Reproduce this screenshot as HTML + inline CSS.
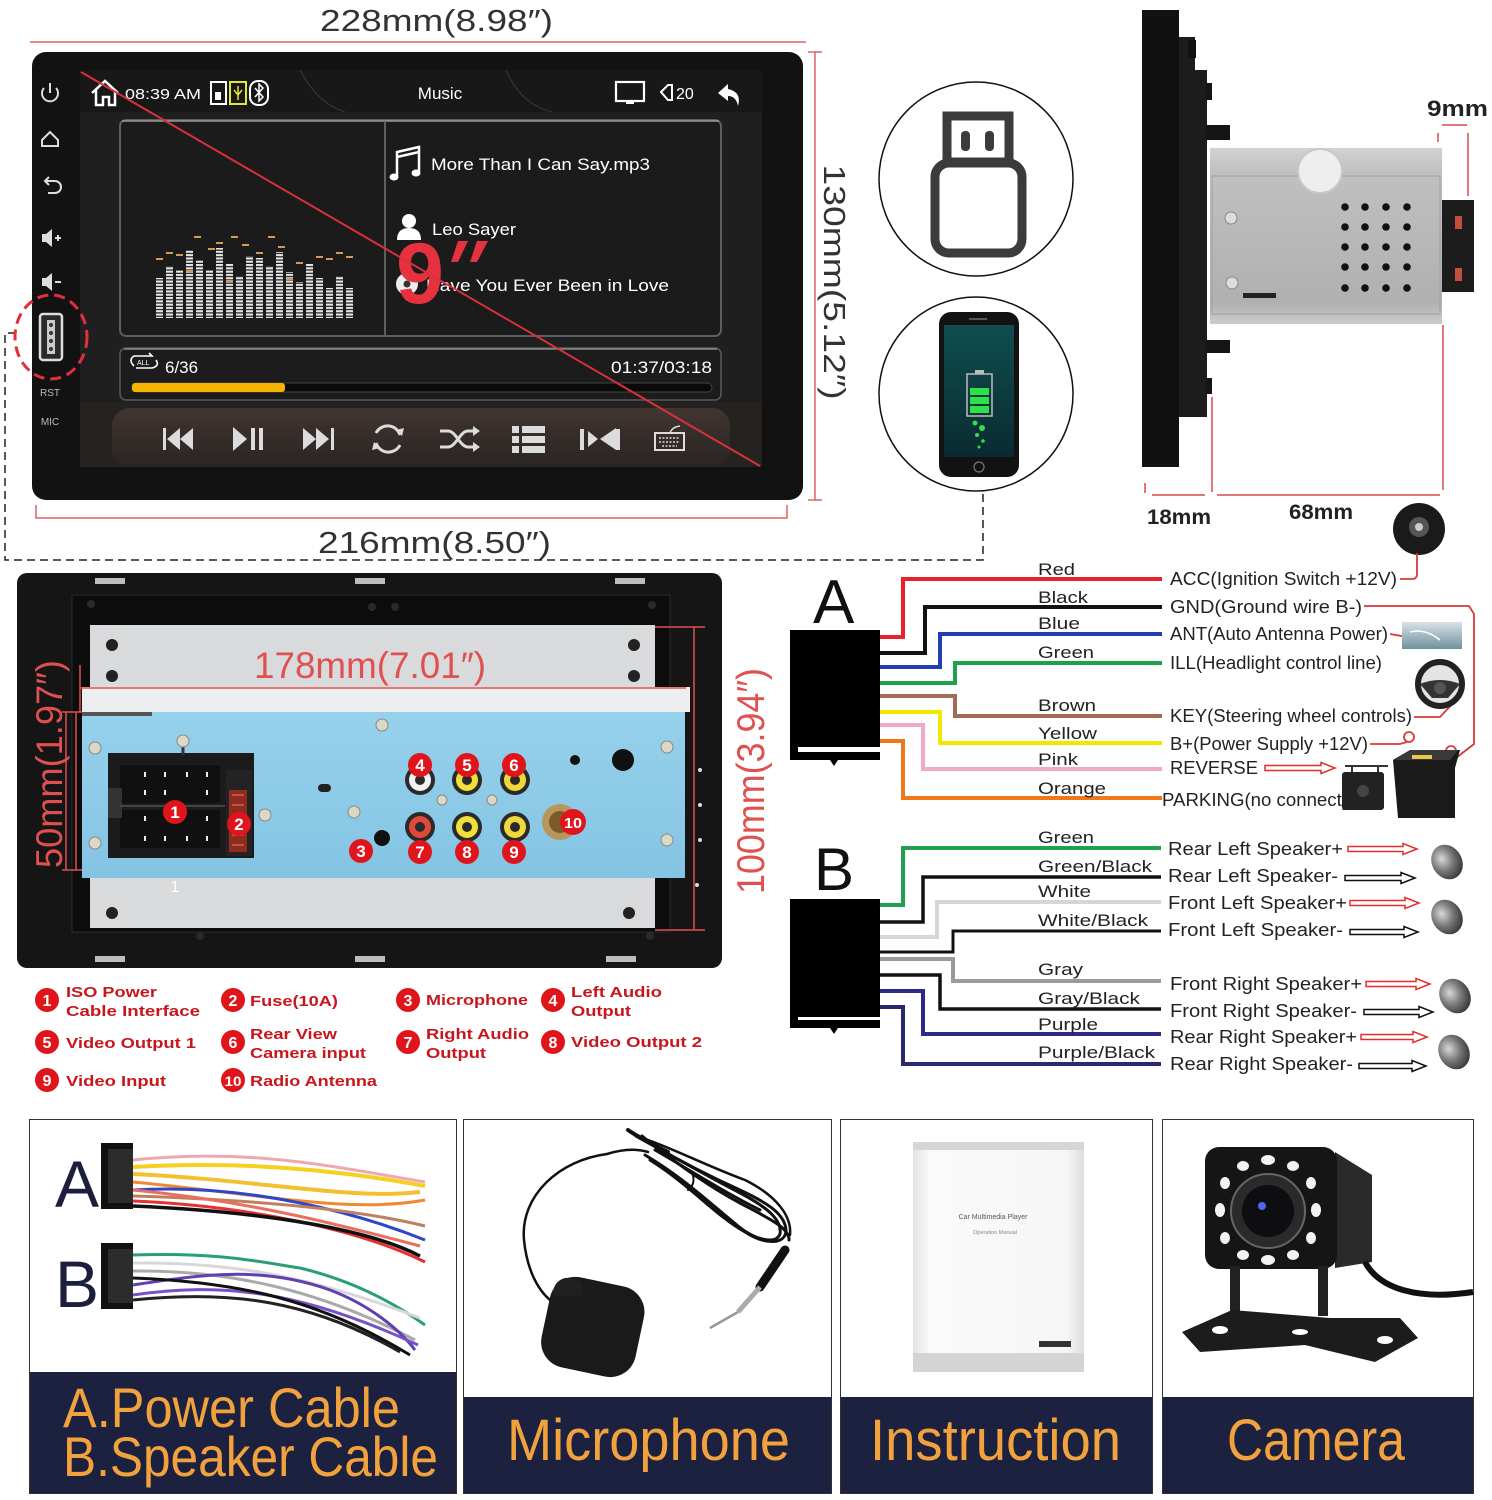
<!DOCTYPE html>
<html><head><meta charset="utf-8">
<style>
html,body{margin:0;padding:0;background:#fff;}
svg{display:block;}
text{font-family:"Liberation Sans",Arial,sans-serif;}
</style></head><body>
<svg width="1492" height="1500" viewBox="0 0 1492 1500" xmlns="http://www.w3.org/2000/svg">
<defs>
<linearGradient id="metal" x1="0" y1="0" x2="0" y2="1"><stop offset="0" stop-color="#d2d2d2"/><stop offset="0.14" stop-color="#c0c0c0"/><stop offset="0.88" stop-color="#b0b0b0"/><stop offset="1" stop-color="#cccccc"/></linearGradient>
<linearGradient id="phoneScr" x1="0" y1="0" x2="0" y2="1"><stop offset="0" stop-color="#0f4e50"/><stop offset="1" stop-color="#0a2a30"/></linearGradient>
<linearGradient id="blueb" x1="0" y1="0" x2="0" y2="1"><stop offset="0" stop-color="#96d1ec"/><stop offset="1" stop-color="#84c4e3"/></linearGradient>
<radialGradient id="spk" cx="0.4" cy="0.35" r="0.7"><stop offset="0" stop-color="#d8d8d8"/><stop offset="0.5" stop-color="#7a7a7a"/><stop offset="1" stop-color="#333"/></radialGradient>
<linearGradient id="ctl" x1="0" y1="0" x2="0" y2="1"><stop offset="0" stop-color="#403531"/><stop offset="1" stop-color="#2a2422"/></linearGradient>
<linearGradient id="antg" x1="0" y1="0" x2="0" y2="1"><stop offset="0" stop-color="#d9e2e8"/><stop offset="1" stop-color="#6f909c"/></linearGradient>
<linearGradient id="book" x1="0" y1="0" x2="1" y2="0"><stop offset="0" stop-color="#e4e4e4"/><stop offset="0.1" stop-color="#fafafa"/><stop offset="0.9" stop-color="#f6f6f6"/><stop offset="1" stop-color="#dcdcdc"/></linearGradient>
<pattern id="eq" width="1" height="3.3" patternUnits="userSpaceOnUse"><rect width="1" height="2.1" fill="#e6e6e6"/></pattern>
</defs>

<!-- ===== TOP DIMENSIONS ===== -->
<text x="320" y="31" font-size="31" fill="#333" textLength="233" lengthAdjust="spacingAndGlyphs">228mm(8.98″)</text>
<line x1="30" y1="42" x2="806" y2="42" stroke="#e06060" stroke-width="1.5"/>
<line x1="815" y1="52" x2="815" y2="500" stroke="#e06060" stroke-width="1.5"/>
<line x1="808" y1="52" x2="822" y2="52" stroke="#e06060" stroke-width="1.5"/>
<line x1="808" y1="500" x2="822" y2="500" stroke="#e06060" stroke-width="1.5"/>
<text transform="translate(824,282) rotate(90)" x="0" y="0" font-size="31" fill="#333" text-anchor="middle" textLength="235" lengthAdjust="spacingAndGlyphs">130mm(5.12″)</text>
<path d="M36 505 V518 H787 V505" fill="none" stroke="#e06060" stroke-width="1.5"/>
<text x="318" y="553" font-size="31" fill="#333" textLength="233" lengthAdjust="spacingAndGlyphs">216mm(8.50″)</text>
<path d="M16 333 H5 V560 H983 V492" fill="none" stroke="#222" stroke-width="1.5" stroke-dasharray="8 5"/>

<!-- ===== SCREEN ===== -->
<rect x="32" y="52" width="771" height="448" rx="14" fill="#121212"/>
<rect x="80" y="70" width="682" height="397" fill="#1f1f20"/>
<rect x="80" y="70" width="682" height="42" fill="#181819"/>
<path d="M300 70 Q318 104 345 112" stroke="#3a3a3a" fill="none"/>
<path d="M506 70 Q520 104 552 112" stroke="#3a3a3a" fill="none"/>
<!-- status bar -->
<path d="M92 93 L105 81 L118 93 M96 90 V105 H103 V97 H109 V105 H115 V90" stroke="#fff" stroke-width="2.5" fill="none"/>
<text x="125" y="99" font-size="15" fill="#fff" textLength="76" lengthAdjust="spacingAndGlyphs">08:39 AM</text>
<rect x="211" y="82" width="15" height="22" fill="none" stroke="#fff" stroke-width="2"/>
<rect x="215" y="92" width="6" height="8" fill="#fff"/>
<rect x="230" y="82" width="16" height="22" fill="none" stroke="#e6e23a" stroke-width="2"/>
<path d="M238 86 V100 M234 90 L238 95 L242 90" stroke="#e6e23a" stroke-width="1.5" fill="none"/>
<rect x="250" y="81" width="18" height="24" rx="8" fill="none" stroke="#fff" stroke-width="2"/>
<path d="M255 88 L263 97 L259 101 V84 L263 88 L255 97" stroke="#fff" stroke-width="1.5" fill="none"/>
<text x="440" y="99" font-size="17" fill="#fff" text-anchor="middle">Music</text>
<rect x="616" y="82" width="28" height="19" fill="none" stroke="#fff" stroke-width="2.2"/>
<path d="M626 103 H634 M630 101 V104" stroke="#fff" stroke-width="2"/>
<path d="M628 86 A6 6 0 1 0 636 95 A5 5 0 0 1 628 86 Z" fill="#fff"/>
<path d="M661 92 L668 85 H672 V100 H668 Z" fill="none" stroke="#fff" stroke-width="2"/>
<text x="676" y="99" font-size="16" fill="#fff">20</text>
<path d="M738 106 Q742 92 728 89 V84 L718 93 L728 101 V96 Q736 96 738 106 Z" fill="#fff"/>
<!-- left icons -->
<path d="M44 88 A8 8 0 1 0 56 88" stroke="#ddd" stroke-width="2" fill="none"/>
<line x1="50" y1="83" x2="50" y2="93" stroke="#ddd" stroke-width="2"/>
<path d="M42 140 L50 132 L58 140 V146 H42 Z" stroke="#ddd" stroke-width="2" fill="none"/>
<path d="M46 181 H55 A6 6 0 0 1 55 193 H48 M49 177 L45 181 L49 185" stroke="#ddd" stroke-width="2" fill="none"/>
<path d="M42 234 H46 L52 229 V247 L46 242 H42 Z" fill="#ddd"/>
<path d="M55 238 H61 M58 235 V241" stroke="#ddd" stroke-width="2"/>
<path d="M42 278 H46 L52 273 V291 L46 286 H42 Z" fill="#ddd"/>
<path d="M55 282 H61" stroke="#ddd" stroke-width="2"/>
<rect x="40" y="314" width="22" height="46" rx="3" fill="#2a2a2a" stroke="#ddd" stroke-width="2.5"/>
<rect x="47" y="320" width="8" height="34" fill="#ccc"/>
<circle cx="51" cy="325" r="2" fill="#333"/><circle cx="51" cy="333" r="2" fill="#333"/><circle cx="51" cy="341" r="2" fill="#333"/><circle cx="51" cy="349" r="2" fill="#333"/>
<ellipse cx="51" cy="337" rx="36" ry="42" fill="none" stroke="#e03040" stroke-width="3" stroke-dasharray="11 6"/>
<text x="50" y="396" font-size="10" fill="#bbb" text-anchor="middle">RST</text>
<text x="50" y="425" font-size="10" fill="#bbb" text-anchor="middle">MIC</text>
<!-- main panel -->
<rect x="120" y="120" width="601" height="216" rx="6" fill="#1b1b1c" stroke="#5e5e5e" stroke-width="2"/>
<line x1="122" y1="121" x2="719" y2="121" stroke="#9a9a9a" stroke-width="1.5"/>
<line x1="385" y1="121" x2="385" y2="335" stroke="#5e5e5e" stroke-width="2"/>
<!-- equalizer -->
<g fill="url(#eq)">
<rect x="156" y="278" width="7" height="40"/><rect x="166" y="266" width="7" height="52"/><rect x="176" y="270" width="7" height="48"/><rect x="186" y="250" width="7" height="68"/><rect x="196" y="260" width="7" height="58"/><rect x="206" y="270" width="7" height="48"/><rect x="216" y="248" width="7" height="70"/><rect x="226" y="264" width="7" height="54"/><rect x="236" y="276" width="7" height="42"/><rect x="246" y="256" width="7" height="62"/><rect x="256" y="258" width="7" height="60"/><rect x="266" y="266" width="7" height="52"/><rect x="276" y="252" width="7" height="66"/><rect x="286" y="272" width="7" height="46"/><rect x="296" y="282" width="7" height="36"/><rect x="306" y="264" width="7" height="54"/><rect x="316" y="278" width="7" height="40"/><rect x="326" y="288" width="7" height="30"/><rect x="336" y="276" width="7" height="42"/><rect x="346" y="288" width="7" height="30"/>
</g>
<g fill="#d89a50">
<rect x="156" y="258" width="7" height="2"/><rect x="166" y="252" width="7" height="2"/><rect x="176" y="254" width="7" height="2"/><rect x="194" y="236" width="7" height="2"/><rect x="208" y="248" width="7" height="2"/><rect x="216" y="242" width="7" height="2"/><rect x="231" y="236" width="7" height="2"/><rect x="242" y="244" width="7" height="2"/><rect x="256" y="252" width="7" height="2"/><rect x="268" y="236" width="7" height="2"/><rect x="278" y="246" width="7" height="2"/><rect x="296" y="262" width="7" height="2"/><rect x="316" y="256" width="7" height="2"/><rect x="326" y="258" width="7" height="2"/><rect x="336" y="252" width="7" height="2"/><rect x="346" y="256" width="7" height="2"/><rect x="186" y="270" width="7" height="2"/><rect x="226" y="280" width="7" height="2"/><rect x="286" y="278" width="7" height="2"/>
</g>
<!-- song info -->
<path d="M397 176 V152 L419 147 V172 M397 157 L419 152" stroke="#fff" stroke-width="2.5" fill="none"/>
<ellipse cx="394" cy="177" rx="4.5" ry="3.5" fill="#fff"/><ellipse cx="416" cy="173" rx="4.5" ry="3.5" fill="#fff"/>
<text x="431" y="170" font-size="17" fill="#fff" textLength="219" lengthAdjust="spacingAndGlyphs">More Than I Can Say.mp3</text>
<circle cx="409" cy="221" r="7" fill="#fff"/>
<path d="M397 240 Q397 228 409 228 Q421 228 421 240 Z" fill="#fff"/>
<text x="432" y="235" font-size="17" fill="#fff" textLength="84" lengthAdjust="spacingAndGlyphs">Leo Sayer</text>
<circle cx="407" cy="284" r="11" fill="#eee"/><circle cx="407" cy="284" r="3.5" fill="#333"/>
<text x="426" y="291" font-size="17" fill="#fff" textLength="243" lengthAdjust="spacingAndGlyphs">Have You Ever Been in Love</text>
<text x="396" y="303" font-size="86" font-weight="bold" fill="#e5323e" textLength="48" lengthAdjust="spacingAndGlyphs">9</text>
<path d="M458 241 L468 241 L458 262 L451 262 Z M477 241 L488 241 L477 262 L470 262 Z" fill="#e5323e"/>
<!-- progress -->
<rect x="120" y="348" width="601" height="52" rx="6" fill="#1c1c1d" stroke="#5a5a5a" stroke-width="1.5"/>
<line x1="124" y1="349" x2="717" y2="349" stroke="#8a8a8a" stroke-width="1.5"/>
<path d="M134 366 Q128 360 134 356 H152 L149 353 M156 360 Q160 366 152 368 H136" stroke="#fff" stroke-width="1.6" fill="none"/>
<text x="137" y="365" font-size="7" fill="#fff">ALL</text>
<text x="165" y="373" font-size="17" fill="#fff">6/36</text>
<text x="712" y="373" font-size="17" fill="#fff" text-anchor="end" textLength="101" lengthAdjust="spacingAndGlyphs">01:37/03:18</text>
<rect x="132" y="383" width="580" height="9" rx="4.5" fill="#0a0a0a" stroke="#444"/>
<rect x="132" y="383" width="153" height="9" rx="3" fill="#f4b400"/>
<!-- controls -->
<rect x="80" y="402" width="682" height="65" fill="#262220"/>
<rect x="112" y="408" width="618" height="59" rx="18" fill="url(#ctl)"/>
<g fill="#dcdcdc">
<rect x="163" y="428" width="3" height="22"/><path d="M180 428 L167 439 L180 450Z M193 428 L180 439 L193 450Z"/>
<path d="M233 427 L247 439 L233 451Z"/><rect x="251" y="428" width="4" height="22"/><rect x="259" y="428" width="4" height="22"/>
<path d="M303 428 L316 439 L303 450Z M316 428 L329 439 L316 450Z"/><rect x="331" y="428" width="3" height="22"/>
<path d="M588 431 L598 439 L588 447Z"/><rect x="580" y="429" width="4" height="21"/><path d="M600 439 L616 428 V450 Z"/><rect x="616" y="429" width="4" height="21"/>
<rect x="512" y="426" width="7" height="7"/><rect x="522" y="426" width="23" height="7"/><rect x="512" y="436" width="7" height="7"/><rect x="522" y="436" width="23" height="7"/><rect x="512" y="446" width="7" height="7"/><rect x="522" y="446" width="23" height="7"/>
</g>
<path d="M376 433 A13 13 0 0 1 400 435 M400 445 A13 13 0 0 1 376 443" stroke="#dcdcdc" stroke-width="3" fill="none"/>
<path d="M396 430 L402 436 L404 428 Z M380 448 L374 442 L372 450 Z" fill="#dcdcdc"/>
<path d="M440 431 H448 C456 431 460 447 468 447 H476 M440 447 H448 C456 447 460 431 468 431 H476" stroke="#dcdcdc" stroke-width="3" fill="none"/>
<path d="M473 426 L480 431 L473 436 Z M473 442 L480 447 L473 452 Z" fill="#dcdcdc"/>
<rect x="655" y="433" width="29" height="17" fill="none" stroke="#dcdcdc" stroke-width="2"/>
<path d="M659 438 H680 M659 442 H680 M662 446 H677" stroke="#dcdcdc" stroke-width="1.5" stroke-dasharray="2 1.5"/>
<path d="M670 433 Q672 427 680 426" stroke="#dcdcdc" stroke-width="1.5" fill="none"/>
<line x1="81" y1="72" x2="760" y2="466" stroke="#d8303a" stroke-width="2"/>

<!-- ===== CIRCLES ===== -->
<circle cx="976" cy="179" r="97" fill="#fff" stroke="#111" stroke-width="1.5"/>
<rect x="947" y="116" width="62" height="46" fill="#fff" stroke="#3b3b3b" stroke-width="9"/>
<rect x="935" y="163" width="87" height="90" rx="14" fill="#fff" stroke="#3b3b3b" stroke-width="9"/>
<rect x="961" y="131" width="9" height="20" rx="4" fill="#3b3b3b"/>
<rect x="985" y="131" width="9" height="20" rx="4" fill="#3b3b3b"/>
<circle cx="976" cy="394" r="97" fill="#fff" stroke="#111" stroke-width="1.5"/>
<rect x="939" y="312" width="80" height="165" rx="12" fill="#121212"/>
<rect x="944" y="325" width="70" height="132" fill="url(#phoneScr)"/>
<rect x="967" y="374" width="25" height="42" fill="none" stroke="#bbb" stroke-width="1.5"/>
<rect x="975" y="370" width="9" height="4" fill="#bbb"/>
<rect x="970" y="388" width="19" height="7" fill="#2ee04a"/><rect x="970" y="397" width="19" height="7" fill="#2ee04a"/><rect x="970" y="406" width="19" height="7" fill="#2ee04a"/>
<circle cx="975" cy="423" r="2.5" fill="#2ee04a"/><circle cx="982" cy="428" r="3" fill="#2ee04a"/><circle cx="977" cy="435" r="2" fill="#2ee04a"/><circle cx="983" cy="441" r="1.8" fill="#2ee04a"/><circle cx="979" cy="447" r="1.5" fill="#2ee04a"/>
<circle cx="979" cy="467" r="5" fill="none" stroke="#777" stroke-width="1.2"/>
<rect x="969" y="318" width="18" height="2" fill="#555"/>

<!-- ===== SIDE VIEW ===== -->
<rect x="1142" y="10" width="37" height="457" fill="#111"/>
<path d="M1179 37 H1195 V70 H1207 V417 H1179 Z" fill="#1c1c1c"/>
<rect x="1188" y="40" width="8" height="18" fill="#111"/>
<rect x="1206" y="125" width="24" height="15" fill="#151515"/>
<rect x="1206" y="340" width="24" height="13" fill="#151515"/>
<rect x="1206" y="378" width="6" height="16" fill="#151515"/>
<rect x="1206" y="83" width="6" height="17" fill="#151515"/>
<rect x="1210" y="148" width="232" height="176" fill="url(#metal)"/>
<rect x="1212" y="176" width="228" height="138" fill="none" stroke="#a0a0a0"/>
<circle cx="1320" cy="171" r="22" fill="#eee" stroke="#c8c8c8" stroke-width="2"/>
<circle cx="1231" cy="218" r="6" fill="#ddd" stroke="#888"/><circle cx="1232" cy="283" r="6" fill="#ddd" stroke="#888"/>
<rect x="1243" y="293" width="33" height="5" fill="#222"/>
<g fill="#111">
<circle cx="1345" cy="207" r="3.8"/><circle cx="1365" cy="207" r="3.8"/><circle cx="1386" cy="207" r="3.8"/><circle cx="1407" cy="207" r="3.8"/>
<circle cx="1345" cy="227" r="3.8"/><circle cx="1365" cy="227" r="3.8"/><circle cx="1386" cy="227" r="3.8"/><circle cx="1407" cy="227" r="3.8"/>
<circle cx="1345" cy="247" r="3.8"/><circle cx="1365" cy="247" r="3.8"/><circle cx="1386" cy="247" r="3.8"/><circle cx="1407" cy="247" r="3.8"/>
<circle cx="1345" cy="267" r="3.8"/><circle cx="1365" cy="267" r="3.8"/><circle cx="1386" cy="267" r="3.8"/><circle cx="1407" cy="267" r="3.8"/>
<circle cx="1345" cy="288" r="3.8"/><circle cx="1365" cy="288" r="3.8"/><circle cx="1386" cy="288" r="3.8"/><circle cx="1407" cy="288" r="3.8"/>
</g>
<rect x="1442" y="200" width="32" height="92" fill="#1c1c1c"/>
<rect x="1455" y="216" width="7" height="13" fill="#c0503c"/><rect x="1455" y="268" width="7" height="13" fill="#c0503c"/>
<g stroke="#d84a4a" stroke-width="1.5" fill="none">
<path d="M1442 125 H1467"/><path d="M1468 133 V196"/><path d="M1438 133 V142"/>
<path d="M1145 483 V493"/><path d="M1152 495 H1205"/><path d="M1212 397 V492"/><path d="M1217 495 H1440"/><path d="M1443 325 V490"/>
</g>
<text x="1427" y="116" font-size="22" font-weight="bold" fill="#222" textLength="61" lengthAdjust="spacingAndGlyphs">9mm</text>
<text x="1147" y="524" font-size="21" font-weight="bold" fill="#222" textLength="64" lengthAdjust="spacingAndGlyphs">18mm</text>
<text x="1289" y="519" font-size="21" font-weight="bold" fill="#222" textLength="64" lengthAdjust="spacingAndGlyphs">68mm</text>
<circle cx="1419" cy="529" r="26" fill="#1a1a1a"/><circle cx="1419" cy="527" r="10" fill="#555"/><circle cx="1419" cy="527" r="4" fill="#ccc"/>

<!-- ===== BACK PANEL ===== -->
<rect x="17" y="573" width="705" height="395" rx="10" fill="#151515"/>
<g fill="#bdbdbd"><rect x="95" y="578" width="30" height="6"/><rect x="355" y="578" width="30" height="6"/><rect x="615" y="578" width="30" height="6"/><rect x="95" y="956" width="30" height="6"/><rect x="355" y="956" width="30" height="6"/><rect x="606" y="956" width="30" height="6"/></g>
<rect x="72" y="595" width="598" height="337" fill="#0c0c0c" stroke="#2a2a2a"/>
<g fill="#2a2a2a"><circle cx="91" cy="604" r="4"/><circle cx="372" cy="607" r="4"/><circle cx="395" cy="607" r="4"/><circle cx="652" cy="605" r="4"/><circle cx="200" cy="936" r="4"/><circle cx="650" cy="936" r="4"/></g>
<rect x="90" y="625" width="565" height="303" fill="#d9dadc"/>
<g fill="#222"><circle cx="112" cy="645" r="6"/><circle cx="112" cy="676" r="6"/><circle cx="634" cy="645" r="6"/><circle cx="634" cy="676" r="6"/><circle cx="112" cy="913" r="6"/><circle cx="629" cy="913" r="6"/></g>
<rect x="82" y="687" width="608" height="25" fill="#eceef0"/>
<rect x="82" y="712" width="603" height="166" fill="url(#blueb)"/>
<rect x="82" y="712" width="70" height="4" fill="#555"/>
<g fill="#ddd"><circle cx="700" cy="770" r="2"/><circle cx="700" cy="805" r="2"/><circle cx="700" cy="840" r="2"/><circle cx="697" cy="885" r="2"/></g>
<text x="370" y="678" font-size="37" fill="#e05050" text-anchor="middle" textLength="232" lengthAdjust="spacingAndGlyphs">178mm(7.01″)</text>
<g stroke="#e05050" stroke-width="1.5" fill="none">
<path d="M80 688 H686"/><path d="M80 665 V712"/>
<path d="M66 712 V870 M62 712 H82 M62 870 H82"/><path d="M76 712 V870"/>
<path d="M694 627 V930 M655 627 H705 M655 930 H705"/>
</g>
<text transform="translate(62,764) rotate(-90)" x="0" y="0" font-size="37" fill="#e05050" text-anchor="middle" textLength="208" lengthAdjust="spacingAndGlyphs">50mm(1.97″)</text>
<text transform="translate(764,781) rotate(-90)" x="0" y="0" font-size="39" fill="#e05050" text-anchor="middle" textLength="226" lengthAdjust="spacingAndGlyphs">100mm(3.94″)</text>
<!-- ISO connector -->
<rect x="108" y="753" width="146" height="105" fill="#1b1b1b"/>
<rect x="120" y="765" width="100" height="38" fill="#101010"/><rect x="120" y="810" width="100" height="38" fill="#101010"/>
<rect x="108" y="788" width="14" height="30" fill="#333"/>
<line x1="120" y1="806" x2="225" y2="806" stroke="#444" stroke-width="2"/>
<g fill="#eee"><rect x="144" y="772" width="2" height="5"/><rect x="164" y="772" width="2" height="5"/><rect x="186" y="772" width="2" height="5"/><rect x="206" y="772" width="2" height="5"/><rect x="144" y="790" width="2" height="5"/><rect x="164" y="790" width="2" height="5"/><rect x="206" y="790" width="2" height="5"/><rect x="144" y="816" width="2" height="5"/><rect x="206" y="816" width="2" height="5"/><rect x="144" y="836" width="2" height="5"/><rect x="164" y="836" width="2" height="5"/><rect x="186" y="836" width="2" height="5"/><rect x="206" y="836" width="2" height="5"/></g>
<rect x="226" y="770" width="26" height="86" fill="#232323"/>
<rect x="229" y="790" width="18" height="62" fill="#8f2c22"/>
<path d="M232 795 H244 M232 805 H244 M232 815 H244 M232 835 H244 M232 845 H244" stroke="#c05040" stroke-width="2"/>
<path d="M183 742 V755" stroke="#333" stroke-width="3"/>
<g fill="#dcd8c4" stroke="#888"><circle cx="183" cy="741" r="6"/><circle cx="95" cy="748" r="6"/><circle cx="95" cy="843" r="6"/><circle cx="265" cy="815" r="6"/><circle cx="354" cy="812" r="6"/><circle cx="382" cy="725" r="6"/><circle cx="442" cy="800" r="5"/><circle cx="492" cy="800" r="5"/><circle cx="667" cy="747" r="6"/><circle cx="667" cy="840" r="6"/></g>
<rect x="318" y="784" width="13" height="8" rx="4" fill="#222"/>
<!-- jacks -->
<g>
<circle cx="420" cy="780" r="15" fill="#2a2a2a"/><circle cx="420" cy="780" r="11" fill="#f2f2f2"/><circle cx="420" cy="780" r="5" fill="#2a2a2a"/>
<circle cx="467" cy="780" r="15" fill="#2a2a2a"/><circle cx="467" cy="780" r="11" fill="#f0e03a"/><circle cx="467" cy="780" r="5" fill="#2a2a2a"/>
<circle cx="515" cy="780" r="15" fill="#2a2a2a"/><circle cx="515" cy="780" r="11" fill="#f0d83a"/><circle cx="515" cy="780" r="5" fill="#2a2a2a"/>
<circle cx="420" cy="827" r="15" fill="#2a2a2a"/><circle cx="420" cy="827" r="11" fill="#e04a3a"/><circle cx="420" cy="827" r="5" fill="#2a2a2a"/>
<circle cx="467" cy="827" r="15" fill="#2a2a2a"/><circle cx="467" cy="827" r="11" fill="#f0e03a"/><circle cx="467" cy="827" r="5" fill="#2a2a2a"/>
<circle cx="515" cy="827" r="15" fill="#2a2a2a"/><circle cx="515" cy="827" r="11" fill="#f0d83a"/><circle cx="515" cy="827" r="5" fill="#2a2a2a"/>
<circle cx="560" cy="822" r="18" fill="#b8955a"/><circle cx="560" cy="822" r="11" fill="#7a5a2a"/>
<circle cx="382" cy="838" r="8" fill="#111"/>
<circle cx="575" cy="760" r="5" fill="#111"/><circle cx="623" cy="760" r="11" fill="#111"/>
</g>
<g font-weight="bold" font-size="17" fill="#fff" text-anchor="middle">
<circle cx="175" cy="812" r="12" fill="#e0151b"/><text x="175" y="818">1</text>
<circle cx="239" cy="824" r="12" fill="#e0151b"/><text x="239" y="830">2</text>
<circle cx="361" cy="851" r="12" fill="#e0151b"/><text x="361" y="857">3</text>
<circle cx="420" cy="765" r="12" fill="#e0151b"/><text x="420" y="771">4</text>
<circle cx="467" cy="765" r="12" fill="#e0151b"/><text x="467" y="771">5</text>
<circle cx="514" cy="765" r="12" fill="#e0151b"/><text x="514" y="771">6</text>
<circle cx="420" cy="852" r="12" fill="#e0151b"/><text x="420" y="858">7</text>
<circle cx="467" cy="852" r="12" fill="#e0151b"/><text x="467" y="858">8</text>
<circle cx="514" cy="852" r="12" fill="#e0151b"/><text x="514" y="858">9</text>
<circle cx="573" cy="822" r="13" fill="#e0151b"/><text x="573" y="828" font-size="15" textLength="18" lengthAdjust="spacingAndGlyphs">10</text>
</g>
<text x="175" y="892" font-size="16" fill="#fff" text-anchor="middle">1</text>

<!-- legend -->
<g font-weight="bold" font-size="16" fill="#fff" text-anchor="middle">
<circle cx="47" cy="1000" r="12" fill="#e0151b"/><text x="47" y="1006">1</text>
<circle cx="233" cy="1000" r="12" fill="#e0151b"/><text x="233" y="1006">2</text>
<circle cx="408" cy="1000" r="12" fill="#e0151b"/><text x="408" y="1006">3</text>
<circle cx="553" cy="1000" r="12" fill="#e0151b"/><text x="553" y="1006">4</text>
<circle cx="47" cy="1042" r="12" fill="#e0151b"/><text x="47" y="1048">5</text>
<circle cx="233" cy="1042" r="12" fill="#e0151b"/><text x="233" y="1048">6</text>
<circle cx="408" cy="1042" r="12" fill="#e0151b"/><text x="408" y="1048">7</text>
<circle cx="553" cy="1042" r="12" fill="#e0151b"/><text x="553" y="1048">8</text>
<circle cx="47" cy="1080" r="12" fill="#e0151b"/><text x="47" y="1086">9</text>
<circle cx="233" cy="1080" r="12" fill="#e0151b"/><text x="233" y="1086" font-size="14" textLength="17" lengthAdjust="spacingAndGlyphs">10</text>
</g>
<g font-weight="bold" font-size="14.5" fill="#c8161d">
<text x="66" y="997" textLength="91" lengthAdjust="spacingAndGlyphs">ISO Power</text>
<text x="66" y="1016" textLength="134" lengthAdjust="spacingAndGlyphs">Cable Interface</text>
<text x="250" y="1006" textLength="88" lengthAdjust="spacingAndGlyphs">Fuse(10A)</text>
<text x="426" y="1005" textLength="102" lengthAdjust="spacingAndGlyphs">Microphone</text>
<text x="571" y="997" textLength="91" lengthAdjust="spacingAndGlyphs">Left Audio</text>
<text x="571" y="1016" textLength="60" lengthAdjust="spacingAndGlyphs">Output</text>
<text x="66" y="1048" textLength="130" lengthAdjust="spacingAndGlyphs">Video Output 1</text>
<text x="250" y="1039" textLength="87" lengthAdjust="spacingAndGlyphs">Rear View</text>
<text x="250" y="1058" textLength="116" lengthAdjust="spacingAndGlyphs">Camera input</text>
<text x="426" y="1039" textLength="103" lengthAdjust="spacingAndGlyphs">Right Audio</text>
<text x="426" y="1058" textLength="60" lengthAdjust="spacingAndGlyphs">Output</text>
<text x="571" y="1047" textLength="131" lengthAdjust="spacingAndGlyphs">Video Output 2</text>
<text x="66" y="1086" textLength="100" lengthAdjust="spacingAndGlyphs">Video Input</text>
<text x="250" y="1086" textLength="127" lengthAdjust="spacingAndGlyphs">Radio Antenna</text>
</g>

<!-- ===== WIRING A ===== -->
<text x="813" y="623" font-size="62" fill="#111">A</text>
<rect x="790" y="630" width="90" height="117" fill="#000"/>
<rect x="790" y="745" width="8" height="15" fill="#000"/>
<rect x="790" y="752" width="90" height="8" fill="#000"/>
<path d="M830 760 L838 760 L834 766 Z" fill="#000"/>
<g fill="none" stroke-width="4">
<path d="M880 637 H903 V579 H1162" stroke="#e8222a"/>
<path d="M880 653 H925 V607 H1162" stroke="#111"/>
<path d="M880 667 H940 V634 H1162" stroke="#2040b0"/>
<path d="M880 683 H955 V663 H1162" stroke="#1ea04c"/>
<path d="M880 696 H955 V716 H1162" stroke="#a36a55"/>
<path d="M880 712 H940 V743 H1162" stroke="#f5e600"/>
<path d="M880 725 H923 V769 H1162" stroke="#f2a8c8"/>
<path d="M880 741 H903 V798 H1162" stroke="#f07818"/>
</g>
<g font-size="17" fill="#222">
<text x="1038" y="575" textLength="37" lengthAdjust="spacingAndGlyphs">Red</text>
<text x="1038" y="603" textLength="50" lengthAdjust="spacingAndGlyphs">Black</text>
<text x="1038" y="629" textLength="42" lengthAdjust="spacingAndGlyphs">Blue</text>
<text x="1038" y="658" textLength="56" lengthAdjust="spacingAndGlyphs">Green</text>
<text x="1038" y="711" textLength="58" lengthAdjust="spacingAndGlyphs">Brown</text>
<text x="1038" y="739" textLength="59" lengthAdjust="spacingAndGlyphs">Yellow</text>
<text x="1038" y="765" textLength="40" lengthAdjust="spacingAndGlyphs">Pink</text>
<text x="1038" y="794" textLength="68" lengthAdjust="spacingAndGlyphs">Orange</text>
</g>
<g font-size="18" fill="#222">
<text x="1170" y="585" textLength="227" lengthAdjust="spacingAndGlyphs">ACC(Ignition Switch +12V)</text>
<text x="1170" y="613" textLength="192" lengthAdjust="spacingAndGlyphs">GND(Ground wire B-)</text>
<text x="1170" y="640" textLength="218" lengthAdjust="spacingAndGlyphs">ANT(Auto Antenna Power)</text>
<text x="1170" y="669" textLength="212" lengthAdjust="spacingAndGlyphs">ILL(Headlight control line)</text>
<text x="1170" y="722" textLength="242" lengthAdjust="spacingAndGlyphs">KEY(Steering wheel controls)</text>
<text x="1170" y="750" textLength="198" lengthAdjust="spacingAndGlyphs">B+(Power Supply +12V)</text>
<text x="1170" y="774" textLength="88" lengthAdjust="spacingAndGlyphs">REVERSE</text>
<text x="1162" y="806" textLength="186" lengthAdjust="spacingAndGlyphs">PARKING(no connect)</text>
</g>
<path d="M1265 765.5 H1321 V762.5 L1335 768 L1321 773.5 V770.5 H1265 Z" fill="#fff" stroke="#e03030" stroke-width="1.5"/>
<g stroke="#d83a3a" stroke-width="1.8" fill="none">
<path d="M1400 579 H1412 Q1417 579 1417 574 V553"/>
<path d="M1364 606 H1469 L1474 614 V744 L1456 758"/>
<path d="M1390 634 L1430 641"/>
<path d="M1414 717 H1440 L1456 700"/>
<path d="M1370 744 H1400 L1407 742"/>
<circle cx="1409" cy="737" r="5"/><circle cx="1451" cy="751" r="5"/>
</g>
<rect x="1402" y="622" width="60" height="27" fill="url(#antg)"/>
<path d="M1410 632 Q1425 628 1440 640" stroke="#fff" stroke-width="1.5" fill="none"/>
<circle cx="1440" cy="684" r="22" fill="#e4e4e4" stroke="#222" stroke-width="6"/>
<path d="M1420 684 Q1440 676 1460 684 L1448 698 H1432 Z" fill="#333"/>
<circle cx="1440" cy="688" r="6" fill="#555"/>
<path d="M1393 760 L1410 750 H1460 L1455 768 V818 H1398 Z" fill="#1a1a1a"/>
<path d="M1395 760 L1410 750 H1458 L1450 760 Z" fill="#3a3a3a"/>
<rect x="1412" y="755" width="20" height="4" fill="#e8c84a"/>
<rect x="1342" y="772" width="42" height="38" rx="3" fill="#222"/>
<path d="M1345 766 H1388 M1352 766 V772 M1378 766 V772" stroke="#333" stroke-width="2"/>
<circle cx="1363" cy="791" r="6" fill="#444"/>

<!-- ===== WIRING B ===== -->
<text x="814" y="890" font-size="60" fill="#111">B</text>
<rect x="790" y="899" width="90" height="118" fill="#000"/>
<rect x="790" y="1015" width="8" height="13" fill="#000"/>
<rect x="790" y="1020" width="90" height="8" fill="#000"/>
<path d="M830 1028 L838 1028 L834 1034 Z" fill="#000"/>
<g fill="none" stroke-width="4">
<path d="M880 905 H903 V848 H1161" stroke="#20a050"/>
<path d="M880 922 H923 V877 H1161" stroke="#111" stroke-width="3.5"/>
<path d="M880 937 H937 V902 H1161" stroke="#d6d6d6"/>
<path d="M880 952 H953 V931 H1161" stroke="#111" stroke-width="3"/>
<path d="M880 959 H953 V981 H1161" stroke="#9a9a9a"/>
<path d="M880 975 H940 V1009 H1161" stroke="#111" stroke-width="3.5"/>
<path d="M880 991 H923 V1034 H1161" stroke="#2c2a86"/>
<path d="M880 1007 H903 V1064 H1161" stroke="#2a2870"/>
</g>
<g font-size="17" fill="#222">
<text x="1038" y="843" textLength="56" lengthAdjust="spacingAndGlyphs">Green</text>
<text x="1038" y="872" textLength="114" lengthAdjust="spacingAndGlyphs">Green/Black</text>
<text x="1038" y="897" textLength="53" lengthAdjust="spacingAndGlyphs">White</text>
<text x="1038" y="926" textLength="110" lengthAdjust="spacingAndGlyphs">White/Black</text>
<text x="1038" y="975" textLength="45" lengthAdjust="spacingAndGlyphs">Gray</text>
<text x="1038" y="1004" textLength="102" lengthAdjust="spacingAndGlyphs">Gray/Black</text>
<text x="1038" y="1030" textLength="60" lengthAdjust="spacingAndGlyphs">Purple</text>
<text x="1038" y="1058" textLength="117" lengthAdjust="spacingAndGlyphs">Purple/Black</text>
</g>
<g font-size="18" fill="#222">
<text x="1168" y="855" textLength="175" lengthAdjust="spacingAndGlyphs">Rear Left Speaker+</text>
<text x="1168" y="882" textLength="170" lengthAdjust="spacingAndGlyphs">Rear Left Speaker-</text>
<text x="1168" y="909" textLength="179" lengthAdjust="spacingAndGlyphs">Front Left Speaker+</text>
<text x="1168" y="936" textLength="175" lengthAdjust="spacingAndGlyphs">Front Left Speaker-</text>
<text x="1170" y="990" textLength="192" lengthAdjust="spacingAndGlyphs">Front Right Speaker+</text>
<text x="1170" y="1017" textLength="187" lengthAdjust="spacingAndGlyphs">Front Right Speaker-</text>
<text x="1170" y="1043" textLength="187" lengthAdjust="spacingAndGlyphs">Rear Right Speaker+</text>
<text x="1170" y="1070" textLength="183" lengthAdjust="spacingAndGlyphs">Rear Right Speaker-</text>
</g>
<g fill="#fff" stroke-width="1.5">
<path d="M1348 846.5 H1403 V843.5 L1417 849 L1403 854.5 V851.5 H1348 Z" stroke="#e03030"/>
<path d="M1350 900.5 H1405 V897.5 L1419 903 L1405 908.5 V905.5 H1350 Z" stroke="#e03030"/>
<path d="M1366 981.5 H1416 V978.5 L1430 984 L1416 989.5 V986.5 H1366 Z" stroke="#e03030"/>
<path d="M1361 1034.5 H1413 V1031.5 L1427 1037 L1413 1042.5 V1039.5 H1361 Z" stroke="#e03030"/>
<path d="M1345 875.5 H1401 V872.5 L1415 878 L1401 883.5 V880.5 H1345 Z" stroke="#111"/>
<path d="M1350 929.5 H1404 V926.5 L1418 932 L1404 937.5 V934.5 H1350 Z" stroke="#111"/>
<path d="M1364 1009.5 H1419 V1006.5 L1433 1012 L1419 1017.5 V1014.5 H1364 Z" stroke="#111"/>
<path d="M1359 1063.5 H1412 V1060.5 L1426 1066 L1412 1071.5 V1068.5 H1359 Z" stroke="#111"/>
</g>
<g fill="url(#spk)">
<ellipse cx="1447" cy="862" rx="15" ry="18" transform="rotate(-30 1447 862)"/>
<ellipse cx="1447" cy="917" rx="15" ry="18" transform="rotate(-30 1447 917)"/>
<ellipse cx="1455" cy="996" rx="15" ry="18" transform="rotate(-30 1455 996)"/>
<ellipse cx="1454" cy="1052" rx="15" ry="18" transform="rotate(-30 1454 1052)"/>
</g>

<!-- ===== BOTTOM PANELS ===== -->
<rect x="29.5" y="1119.5" width="427" height="374" fill="#fff" stroke="#333"/>
<rect x="30" y="1372" width="426" height="121" fill="#1c2140"/>
<rect x="463.5" y="1119.5" width="368" height="374" fill="#fff" stroke="#333"/>
<rect x="464" y="1397" width="367" height="96" fill="#1c2140"/>
<rect x="840.5" y="1119.5" width="312" height="374" fill="#fff" stroke="#333"/>
<rect x="841" y="1397" width="311" height="96" fill="#1c2140"/>
<rect x="1162.5" y="1119.5" width="311" height="374" fill="#fff" stroke="#333"/>
<rect x="1163" y="1397" width="310" height="96" fill="#1c2140"/>
<g fill="#f2a23c">
<text x="63" y="1427" font-size="56" textLength="337" lengthAdjust="spacingAndGlyphs">A.Power Cable</text>
<text x="63" y="1476" font-size="56" textLength="375" lengthAdjust="spacingAndGlyphs">B.Speaker Cable</text>
<text x="507" y="1460" font-size="58" textLength="283" lengthAdjust="spacingAndGlyphs">Microphone</text>
<text x="870" y="1460" font-size="58" textLength="251" lengthAdjust="spacingAndGlyphs">Instruction</text>
<text x="1227" y="1460" font-size="58" textLength="178" lengthAdjust="spacingAndGlyphs">Camera</text>
</g>
<!-- cables -->
<text x="55" y="1207" font-size="66" fill="#1b1e3c">A</text>
<text x="55" y="1307" font-size="66" fill="#1b1e3c">B</text>
<rect x="101" y="1145" width="32" height="62" fill="#2c2c2c"/>
<path d="M101 1143 H133 V1149 H108 V1203 H133 V1209 H101 Z" fill="#111"/>
<rect x="101" y="1245" width="32" height="62" fill="#2c2c2c"/>
<path d="M101 1243 H133 V1249 H108 V1303 H133 V1309 H101 Z" fill="#111"/>
<g fill="none" stroke-width="3">
<path d="M133 1160 C250 1148 330 1166 425 1182" stroke="#f0a8b0"/>
<path d="M133 1167 C250 1160 350 1172 425 1186" stroke="#f5d020" stroke-width="4"/>
<path d="M133 1174 C260 1180 350 1200 420 1192" stroke="#f2c030" stroke-width="4"/>
<path d="M133 1182 C260 1194 350 1214 425 1200" stroke="#f08a30"/>
<path d="M133 1190 C250 1183 360 1214 425 1240" stroke="#2e46c8"/>
<path d="M133 1196 C260 1200 360 1210 425 1226" stroke="#c08060"/>
<path d="M133 1201 C250 1206 360 1230 425 1262" stroke="#e83030"/>
<path d="M133 1206 C270 1212 370 1230 420 1256" stroke="#111" stroke-width="3.5"/>
<path d="M133 1190 C240 1200 330 1222 420 1246" stroke="#e87060"/>
<path d="M133 1255 C220 1252 260 1262 300 1268 C350 1280 390 1300 425 1325" stroke="#2aa070"/>
<path d="M133 1263 C220 1262 300 1272 420 1318" stroke="#d8d8d8"/>
<path d="M133 1271 C230 1270 320 1290 415 1340" stroke="#aaa"/>
<path d="M133 1285 C200 1275 260 1265 330 1290 C370 1305 400 1330 415 1350" stroke="#6040b0"/>
<path d="M133 1295 C220 1282 300 1290 418 1345" stroke="#7a50c8"/>
<path d="M133 1278 C240 1282 320 1300 410 1355" stroke="#111"/>
<path d="M133 1300 C230 1290 310 1300 400 1352" stroke="#222"/>
</g>
<!-- microphone -->
<g fill="none" stroke="#111" stroke-linecap="round">
<path d="M607 1154 C560 1160 520 1195 524 1240 C527 1270 538 1290 550 1300" stroke-width="2.5"/>
<path d="M607 1154 C620 1150 635 1148 648 1152" stroke-width="2.5"/>
<path d="M630 1132 C660 1150 700 1172 740 1190 C770 1204 785 1215 786 1230 C786 1245 765 1245 745 1232 C715 1215 690 1185 650 1160" stroke-width="3"/>
<path d="M636 1136 C665 1152 705 1175 742 1194 C772 1210 782 1222 780 1234 C776 1245 755 1240 738 1226 C712 1205 684 1178 645 1155" stroke-width="3"/>
<path d="M642 1136 C672 1160 706 1185 740 1203 C768 1218 790 1228 789 1240" stroke-width="3"/>
<path d="M648 1140 C676 1150 712 1168 745 1180 C775 1195 792 1215 790 1235" stroke-width="2.5"/>
<path d="M655 1150 C690 1170 720 1190 760 1210" stroke-width="3"/>
<path d="M628 1130 C640 1138 655 1146 668 1152" stroke-width="4"/>
<path d="M690 1170 C695 1176 695 1185 688 1190" stroke-width="2"/>
</g>
<path d="M785 1250 L760 1287" stroke="#111" stroke-width="9" stroke-linecap="round"/>
<path d="M760 1287 L738 1312" stroke="#aaa" stroke-width="5"/>
<path d="M738 1312 L710 1328" stroke="#999" stroke-width="2.5"/>
<g transform="rotate(12 593 1326)">
<rect x="545" y="1281" width="96" height="92" rx="26" fill="#1a1a1a"/>
</g>
<path d="M553 1296 C552 1280 566 1274 578 1280 C584 1284 584 1292 580 1297 Z" fill="#202020"/>
<!-- booklet -->
<rect x="913" y="1142" width="171" height="230" fill="url(#book)"/>
<rect x="913" y="1142" width="171" height="8" fill="#d6d6d6"/>
<rect x="913" y="1353" width="171" height="19" fill="#d4d4d4"/>
<text x="993" y="1219" font-size="7" fill="#555" text-anchor="middle">Car Multimedia Player</text>
<text x="995" y="1234" font-size="5.5" fill="#888" text-anchor="middle">Operation Manual</text>
<rect x="1039" y="1341" width="32" height="6" fill="#333"/>
<!-- camera -->
<path d="M1335 1152 L1372 1175 L1372 1262 L1335 1268 Z" fill="#2a2a2a"/>
<rect x="1205" y="1147" width="132" height="122" rx="14" fill="#151515"/>
<g fill="#f2f2f2">
<ellipse cx="1268" cy="1160" rx="7" ry="5"/><ellipse cx="1293" cy="1166" rx="6" ry="5"/><ellipse cx="1243" cy="1166" rx="6" ry="5"/>
<ellipse cx="1311" cy="1183" rx="5" ry="6"/><ellipse cx="1225" cy="1183" rx="5" ry="6"/>
<ellipse cx="1316" cy="1210" rx="5" ry="7"/><ellipse cx="1220" cy="1210" rx="5" ry="7"/>
<ellipse cx="1311" cy="1238" rx="5" ry="6"/><ellipse cx="1225" cy="1238" rx="5" ry="6"/>
<ellipse cx="1293" cy="1255" rx="6" ry="5"/><ellipse cx="1243" cy="1255" rx="6" ry="5"/><ellipse cx="1268" cy="1260" rx="7" ry="5"/>
</g>
<circle cx="1268" cy="1211" r="37" fill="#2a2a2a" stroke="#666" stroke-width="2"/>
<circle cx="1268" cy="1211" r="26" fill="#0d0d12"/>
<circle cx="1262" cy="1206" r="4" fill="#4a6af0"/>
<rect x="1230" y="1266" width="10" height="46" fill="#222"/>
<rect x="1318" y="1266" width="10" height="50" fill="#222"/>
<path d="M1182 1332 L1232 1310 L1330 1318 L1400 1318 L1418 1338 L1375 1362 L1305 1345 L1200 1352 Z" fill="#1c1c1c"/>
<ellipse cx="1220" cy="1330" rx="8" ry="4" fill="#fff"/><ellipse cx="1385" cy="1340" rx="8" ry="4" fill="#fff"/><ellipse cx="1300" cy="1332" rx="8" ry="3" fill="#fff"/>
<path d="M1365 1262 C1380 1290 1420 1300 1473 1292" fill="none" stroke="#111" stroke-width="6"/>
</svg>
</body></html>
